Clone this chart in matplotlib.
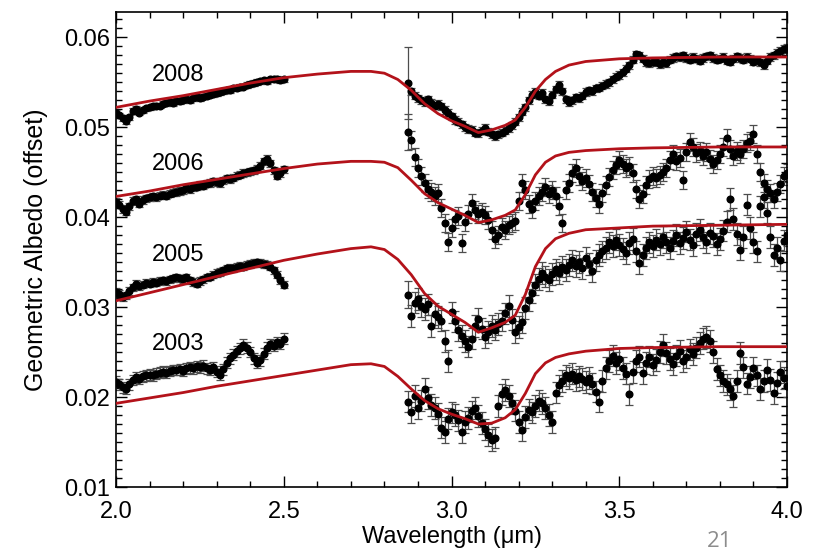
import matplotlib
matplotlib.use("Agg")
import matplotlib.pyplot as plt
from matplotlib.ticker import MultipleLocator

plt.rcParams["font.family"] = ["Liberation Sans", "DejaVu Sans"]

# wavelength grids (micron)
wl_left = [2.00, 2.01, 2.02, 2.03, 2.04, 2.05, 2.06, 2.07, 2.08, 2.09,
           2.10, 2.11, 2.12, 2.13, 2.14, 2.15, 2.16, 2.17, 2.18, 2.19,
           2.20, 2.21, 2.22, 2.23, 2.24, 2.25, 2.26, 2.27, 2.28, 2.29,
           2.30, 2.31, 2.32, 2.33, 2.34, 2.35, 2.36, 2.37, 2.38, 2.39,
           2.40, 2.41, 2.42, 2.43, 2.44, 2.45, 2.46, 2.47, 2.48, 2.49,
           2.50]
wl_right = [2.87, 2.88, 2.89, 2.90, 2.91, 2.92, 2.93, 2.94, 2.95, 2.96,
            2.97, 2.98, 2.99, 3.00, 3.01, 3.02, 3.03, 3.04, 3.05, 3.06,
            3.07, 3.08, 3.09, 3.10, 3.11, 3.12, 3.13, 3.14, 3.15, 3.16,
            3.17, 3.18, 3.19, 3.20, 3.21, 3.22, 3.23, 3.24, 3.25, 3.26,
            3.27, 3.28, 3.29, 3.30, 3.31, 3.32, 3.33, 3.34, 3.35, 3.36,
            3.37, 3.38, 3.39, 3.40, 3.41, 3.42, 3.43, 3.44, 3.45, 3.46,
            3.47, 3.48, 3.49, 3.50, 3.51, 3.52, 3.53, 3.54, 3.55, 3.56,
            3.57, 3.58, 3.59, 3.60, 3.61, 3.62, 3.63, 3.64, 3.65, 3.66,
            3.67, 3.68, 3.69, 3.70, 3.71, 3.72, 3.73, 3.74, 3.75, 3.76,
            3.77, 3.78, 3.79, 3.80, 3.81, 3.82, 3.83, 3.84, 3.85, 3.86,
            3.87, 3.88, 3.89, 3.90, 3.91, 3.92, 3.93, 3.94, 3.95, 3.96,
            3.97, 3.98, 3.99, 4.00]

# measured albedo (offset)
alb2008_left = [0.0516, 0.0513, 0.0510, 0.0507, 0.0511, 0.0518, 0.0520, 0.0516, 0.0519, 0.0521,
                0.0522, 0.0523, 0.0524, 0.0524, 0.0526, 0.0527, 0.0528, 0.0527, 0.0529, 0.0529,
                0.0530, 0.0531, 0.0530, 0.0532, 0.0533, 0.0532, 0.0534, 0.0535, 0.0536, 0.0537,
                0.0538, 0.0539, 0.0540, 0.0541, 0.0541, 0.0543, 0.0544, 0.0545, 0.0545, 0.0547,
                0.0548, 0.0549, 0.0550, 0.0551, 0.0552, 0.0551, 0.0553, 0.0554, 0.0554, 0.0552,
                0.0553]
alb2008_right = [0.0549, 0.0540, 0.0535, 0.0532, 0.0530, 0.0528, 0.0531, 0.0527, 0.0524, 0.0526,
                 0.0523, 0.0519, 0.0516, 0.0512, 0.0508, 0.0506, 0.0503, 0.0500, 0.0498, 0.0497,
                 0.0494, 0.0493, 0.0496, 0.0499, 0.0495, 0.0492, 0.0490, 0.0492, 0.0494, 0.0496,
                 0.0499, 0.0502, 0.0506, 0.0511, 0.0517, 0.0522, 0.0530, 0.0536, 0.0539, 0.0535,
                 0.0538, 0.0531, 0.0529, 0.0536, 0.0542, 0.0547, 0.0540, 0.0531, 0.0528, 0.0530,
                 0.0533, 0.0532, 0.0535, 0.0539, 0.0541, 0.0540, 0.0543, 0.0544, 0.0546, 0.0548,
                 0.0550, 0.0553, 0.0556, 0.0558, 0.0561, 0.0565, 0.0569, 0.0575, 0.0581, 0.0580,
                 0.0576, 0.0572, 0.0571, 0.0573, 0.0572, 0.0570, 0.0573, 0.0571, 0.0575, 0.0577,
                 0.0579, 0.0578, 0.0580, 0.0577, 0.0575, 0.0578, 0.0576, 0.0574, 0.0577, 0.0579,
                 0.0580, 0.0577, 0.0575, 0.0576, 0.0578, 0.0574, 0.0573, 0.0576, 0.0579, 0.0577,
                 0.0575, 0.0578, 0.0576, 0.0573, 0.0575, 0.0572, 0.0569, 0.0574, 0.0578, 0.0580,
                 0.0583, 0.0585, 0.0587, 0.0588]

alb2006_left = [0.0417, 0.0414, 0.0409, 0.0406, 0.0412, 0.0418, 0.0420, 0.0415, 0.0419, 0.0421,
                0.0422, 0.0423, 0.0422, 0.0424, 0.0425, 0.0424, 0.0426, 0.0427, 0.0428, 0.0429,
                0.0430, 0.0432, 0.0431, 0.0433, 0.0434, 0.0436, 0.0435, 0.0437, 0.0438, 0.0440,
                0.0439, 0.0438, 0.0441, 0.0443, 0.0442, 0.0444, 0.0446, 0.0447, 0.0449, 0.0450,
                0.0451, 0.0452, 0.0454, 0.0457, 0.0462, 0.0465, 0.0460, 0.0452, 0.0446, 0.0449,
                0.0453]
alb2006_right = [0.0495, 0.0486, 0.0467, 0.0455, 0.0446, 0.0438, 0.0431, 0.0428, 0.0424, 0.0427,
                 0.0410, 0.0393, 0.0372, 0.0388, 0.0398, 0.0401, 0.0371, 0.0395, 0.0404, 0.0416,
                 0.0408, 0.0403, 0.0406, 0.0402, 0.0397, 0.0386, 0.0376, 0.0380, 0.0389, 0.0386,
                 0.0391, 0.0394, 0.0396, 0.0418, 0.0438, 0.0430, 0.0415, 0.0409, 0.0418, 0.0423,
                 0.0428, 0.0433, 0.0426, 0.0430, 0.0424, 0.0412, 0.0394, 0.0430, 0.0438, 0.0449,
                 0.0455, 0.0446, 0.0440, 0.0444, 0.0437, 0.0428, 0.0421, 0.0415, 0.0427, 0.0436,
                 0.0445, 0.0452, 0.0458, 0.0463, 0.0459, 0.0455, 0.0457, 0.0449, 0.0431, 0.0420,
                 0.0426, 0.0436, 0.0442, 0.0446, 0.0444, 0.0447, 0.0450, 0.0455, 0.0463, 0.0470,
                 0.0462, 0.0466, 0.0441, 0.0472, 0.0484, 0.0478, 0.0471, 0.0474, 0.0468, 0.0472,
                 0.0465, 0.0459, 0.0463, 0.0470, 0.0478, 0.0488, 0.0476, 0.0468, 0.0473, 0.0470,
                 0.0476, 0.0482, 0.0485, 0.0492, 0.0470, 0.0450, 0.0438, 0.0431, 0.0427, 0.0420,
                 0.0428, 0.0437, 0.0446, 0.0449]

alb2005_left = [0.0317, 0.0315, 0.0311, 0.0313, 0.0318, 0.0322, 0.0326, 0.0323, 0.0325, 0.0327,
                0.0326, 0.0328, 0.0327, 0.0329, 0.0330, 0.0329, 0.0331, 0.0332, 0.0333, 0.0332,
                0.0331, 0.0333, 0.0330, 0.0328, 0.0326, 0.0329, 0.0331, 0.0333, 0.0334, 0.0336,
                0.0338, 0.0339, 0.0341, 0.0343, 0.0344, 0.0343, 0.0345, 0.0346, 0.0345, 0.0347,
                0.0348, 0.0349, 0.0350, 0.0349, 0.0348, 0.0347, 0.0345, 0.0341, 0.0336, 0.0330,
                0.0325]
alb2005_right = [0.0314, 0.0290, 0.0305, 0.0309, 0.0301, 0.0298, 0.0303, 0.0279, 0.0292, 0.0289,
                 0.0285, 0.0262, 0.0240, 0.0294, 0.0284, 0.0274, 0.0268, 0.0262, 0.0256, 0.0265,
                 0.0279, 0.0287, 0.0276, 0.0267, 0.0272, 0.0279, 0.0275, 0.0281, 0.0285, 0.0293,
                 0.0301, 0.0286, 0.0272, 0.0278, 0.0283, 0.0299, 0.0308, 0.0316, 0.0325, 0.0331,
                 0.0338, 0.0334, 0.0330, 0.0337, 0.0342, 0.0338, 0.0345, 0.0341, 0.0347, 0.0352,
                 0.0346, 0.0350, 0.0343, 0.0355, 0.0348, 0.0340, 0.0352, 0.0358, 0.0362, 0.0366,
                 0.0372, 0.0368, 0.0375, 0.0369, 0.0365, 0.0360, 0.0371, 0.0376, 0.0362, 0.0349,
                 0.0358, 0.0366, 0.0372, 0.0368, 0.0375, 0.0370, 0.0378, 0.0372, 0.0366, 0.0374,
                 0.0380, 0.0371, 0.0377, 0.0384, 0.0375, 0.0369, 0.0381, 0.0386, 0.0378, 0.0372,
                 0.0382, 0.0379, 0.0370, 0.0376, 0.0385, 0.0395, 0.0420, 0.0398, 0.0381, 0.0364,
                 0.0378, 0.0414, 0.0388, 0.0372, 0.0362, 0.0412, 0.0422, 0.0405, 0.0378, 0.0358,
                 0.0366, 0.0352, 0.0374, 0.0380]

alb2003_left = [0.0217, 0.0214, 0.0211, 0.0209, 0.0214, 0.0219, 0.0222, 0.0220, 0.0223, 0.0224,
                0.0225, 0.0224, 0.0226, 0.0227, 0.0228, 0.0227, 0.0229, 0.0230, 0.0230, 0.0231,
                0.0229, 0.0232, 0.0233, 0.0232, 0.0234, 0.0233, 0.0235, 0.0232, 0.0230, 0.0233,
                0.0228, 0.0225, 0.0231, 0.0238, 0.0243, 0.0247, 0.0251, 0.0254, 0.0258, 0.0255,
                0.0250, 0.0243, 0.0238, 0.0241, 0.0248, 0.0255, 0.0259, 0.0257, 0.0261, 0.0259,
                0.0265]
alb2003_right = [0.0195, 0.0183, 0.0201, 0.0188, 0.0196, 0.0209, 0.0199, 0.0191, 0.0188, 0.0181,
                 0.0166, 0.0161, 0.0176, 0.0183, 0.0180, 0.0174, 0.0161, 0.0172, 0.0177, 0.0184,
                 0.0188, 0.0179, 0.0171, 0.0164, 0.0158, 0.0152, 0.0155, 0.0190, 0.0203, 0.0208,
                 0.0201, 0.0193, 0.0185, 0.0172, 0.0163, 0.0178, 0.0186, 0.0183, 0.0190, 0.0196,
                 0.0193, 0.0188, 0.0180, 0.0172, 0.0205, 0.0213, 0.0218, 0.0224, 0.0221, 0.0226,
                 0.0219, 0.0223, 0.0220, 0.0217, 0.0221, 0.0215, 0.0206, 0.0195, 0.0218, 0.0232,
                 0.0240, 0.0246, 0.0238, 0.0242, 0.0232, 0.0226, 0.0203, 0.0228, 0.0240, 0.0245,
                 0.0227, 0.0238, 0.0245, 0.0236, 0.0241, 0.0250, 0.0258, 0.0249, 0.0242, 0.0237,
                 0.0246, 0.0251, 0.0240, 0.0244, 0.0253, 0.0248, 0.0255, 0.0260, 0.0265, 0.0267,
                 0.0262, 0.0250, 0.0231, 0.0224, 0.0218, 0.0214, 0.0209, 0.0201, 0.0218, 0.0249,
                 0.0233, 0.0215, 0.0222, 0.0232, 0.0224, 0.0209, 0.0218, 0.0230, 0.0219, 0.0204,
                 0.0216, 0.0228, 0.0221, 0.0212]

# typical 1-sigma errors per segment (left, right, first right point)
err2008 = [0.0003, 0.0004, 0.0040]
err2006 = [0.0004, 0.0010, 0.0020]
err2005 = [0.0004, 0.0012, 0.0015]
err2003 = [0.0006, 0.0012, 0.0012]

# model fits
model_wl = [2.00, 2.10, 2.20, 2.30, 2.40, 2.50, 2.60, 2.70, 2.76, 2.80,
            2.84, 2.88, 2.92, 2.96, 3.00, 3.04, 3.08, 3.12, 3.16, 3.19,
            3.22, 3.25, 3.28, 3.31, 3.35, 3.40, 3.50, 3.60, 3.80, 4.00]
model2008 = [0.0522, 0.0529, 0.0535, 0.0542, 0.0549, 0.0555, 0.0559, 0.0562, 0.0562, 0.0560,
             0.0553, 0.0541, 0.0526, 0.0515, 0.0507, 0.0501, 0.0494, 0.0497, 0.0502, 0.0508,
             0.0522, 0.0540, 0.0553, 0.0562, 0.0569, 0.0573, 0.0576, 0.0577, 0.0578, 0.0578]
model2006 = [0.0423, 0.0429, 0.0436, 0.0442, 0.0448, 0.0454, 0.0459, 0.0462, 0.0462, 0.0461,
             0.0455, 0.0441, 0.0426, 0.0416, 0.0409, 0.0402, 0.0394, 0.0397, 0.0402, 0.0408,
             0.0425, 0.0447, 0.0461, 0.0468, 0.0472, 0.0474, 0.0476, 0.0477, 0.0478, 0.0478]
model2005 = [0.0307, 0.0316, 0.0325, 0.0334, 0.0343, 0.0352, 0.0359, 0.0365, 0.0367, 0.0364,
             0.0353, 0.0336, 0.0315, 0.0301, 0.0292, 0.0283, 0.0272, 0.0277, 0.0283, 0.0291,
             0.0314, 0.0345, 0.0365, 0.0376, 0.0382, 0.0386, 0.0388, 0.0390, 0.0391, 0.0392]
model2003 = [0.0193, 0.0199, 0.0205, 0.0212, 0.0218, 0.0224, 0.0230, 0.0236, 0.0237, 0.0234,
             0.0223, 0.0209, 0.0196, 0.0187, 0.0181, 0.0176, 0.0170, 0.0171, 0.0177, 0.0186,
             0.0204, 0.0226, 0.0238, 0.0244, 0.0248, 0.0251, 0.0254, 0.0255, 0.0256, 0.0256]

years = ["2008", "2006", "2005", "2003"]
label_y = [0.0558, 0.0459, 0.0358, 0.0259]


def draw_all():
    fig = plt.figure(figsize=(8.21, 5.54), dpi=100)
    ax = fig.add_axes([0.1413, 0.1209, 0.8173, 0.8574])

    series = [
        (alb2008_left, alb2008_right, err2008, model2008),
        (alb2006_left, alb2006_right, err2006, model2006),
        (alb2005_left, alb2005_right, err2005, model2005),
        (alb2003_left, alb2003_right, err2003, model2003),
    ]
    eb = dict(fmt="o", ms=4.8, mfc="black", mec="black", ecolor="#4d4d4d",
              elinewidth=0.9, capsize=2.6, capthick=0.9, zorder=2)
    for left, right, err, model in series:
        ax.errorbar(wl_left, left, yerr=err[0], **eb)
        yerr_r = [err[2]] + [err[1]] * (len(right) - 1)
        ax.errorbar(wl_right, right, yerr=yerr_r, **eb)
        ax.plot(model_wl, model, color="#b3121a", lw=2.0, zorder=3)

    for yr, yy in zip(years, label_y):
        ax.text(2.107, yy, yr, fontsize=17, ha="left", va="center")

    ax.set_xlim(2.0, 4.0)
    ax.set_ylim(0.01, 0.0628)
    ax.xaxis.set_major_locator(MultipleLocator(0.5))
    ax.xaxis.set_minor_locator(MultipleLocator(0.1))
    ax.yaxis.set_major_locator(MultipleLocator(0.01))
    ax.yaxis.set_minor_locator(MultipleLocator(0.001))
    ax.set_xticks([2.0, 2.5, 3.0, 3.5, 4.0], ["2.0", "2.5", "3.0", "3.5", "4.0"])
    ax.set_yticks([0.01, 0.02, 0.03, 0.04, 0.05, 0.06],
                  ["0.01", "0.02", "0.03", "0.04", "0.05", "0.06"])
    ax.tick_params(which="both", direction="in", top=True, right=True, width=1.0)
    ax.tick_params(which="major", length=8)
    ax.tick_params(which="minor", length=4)
    ax.tick_params(axis="x", labelsize=17, pad=10)
    ax.tick_params(axis="y", labelsize=17, pad=4)
    for s in ax.spines.values():
        s.set_linewidth(1.2)

    ax.set_xlabel("Wavelength (\u03bcm)", fontsize=17, labelpad=2)
    ax.set_ylabel("Geometric Albedo (offset)", fontsize=18, labelpad=12)

    fig.text(0.877, 0.023, "21", fontsize=16, color="#8c8c8c", ha="center", va="center",
             family=["Open Sans", "DejaVu Sans"])
    fig.savefig("out.png", dpi=100)


if __name__ == "__main__":
    draw_all()
